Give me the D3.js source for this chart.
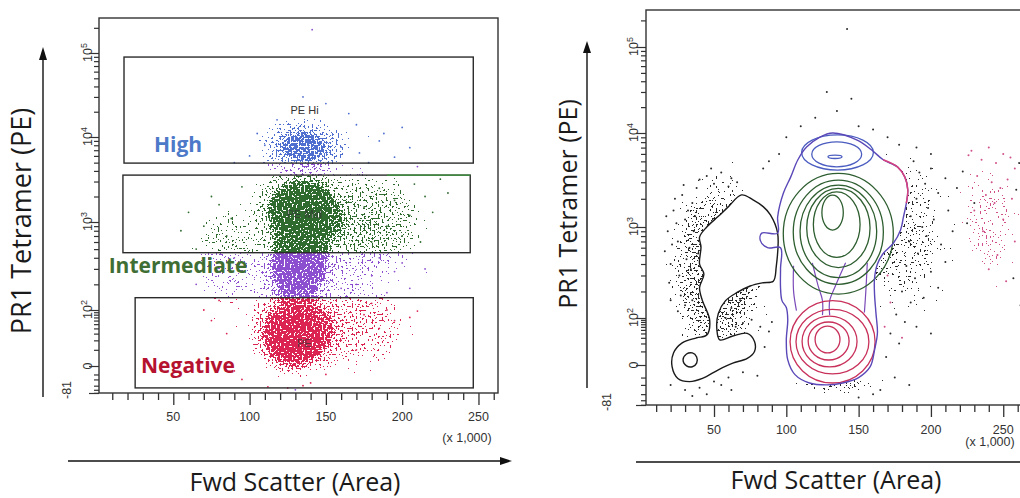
<!DOCTYPE html>
<html>
<head>
<meta charset="utf-8">
<script src="https://cdn.jsdelivr.net/npm/d3@7"></script>
<style>
  body { margin: 0; background: #fff; }
  svg { display: block; }
  .num { font-family: "Liberation Sans", Arial, sans-serif; font-size: 12.5px; fill: #333; }
  .title { font-family: "Open Sans", sans-serif; fill: #1a1a1a; }
  .tag { font-family: "Open Sans", sans-serif; font-weight: 700; font-size: 21px; }
  .gate-name { font-family: "Liberation Sans", Arial, sans-serif; font-size: 11px; fill: #333; }
</style>
</head>
<body>
<svg id="chart" width="1020" height="498"></svg>
<script>
// ---- axis ticks ----
const xMajorTicks = [50, 100, 150, 200, 250];
const xMinorTicks = [10, 20, 30, 40, 60, 70, 80, 90, 110, 120, 130, 140, 160, 170, 180, 190, 210, 220, 230, 240, 260];
const yLabelTicks = [-81, 0, 100, 1000, 10000, 100000];
const yLabelBase = ['-81', '0', '10', '10', '10', '10'];
const yLabelExp = ['', '', '2', '3', '4', '5'];
const yMinorTicks = [-80, -60, -40, -20, -10, 10, 20, 30, 40, 50, 60, 70, 80, 90,
  200, 300, 400, 500, 600, 700, 800, 900,
  2000, 3000, 4000, 5000, 6000, 7000, 8000, 9000,
  20000, 30000, 40000, 50000, 60000, 70000, 80000, 90000, 200000];
const yKnots = [-81, 0, 100, 1000, 10000, 100000, 262144];

// ---- left plot: gates (x in thousands, y = PE intensity) ----
const gateNames = ['PE Hi', 'PE Mid', 'PE'];
const gateX0 = [17.7, 17, 25];
const gateX1 = [246.6, 244.6, 246.6];
const gateYLow = [4940, 456, -50];
const gateYHigh = [89500, 3570, 140];
const tagNames = ['High', 'Intermediate', 'Negative'];

// event density regions: [x0, x1, yLow, yHigh, relative density]
const leftDensity = [
  [60, 225, -55, 22000, 0.45],
  [100, 170, 3300, 20000, 0.8],
  [102, 168, 300, 5200, 1],
  [110, 158, 520, 3400, 1],
  [140, 225, 250, 4500, 0.45],
  [104, 160, 100, 900, 1],
  [95, 165, -35, 220, 1],
  [106, 150, -10, 120, 1],
  [130, 215, -20, 200, 0.4],
  [55, 105, 40, 2500, 0.3]
];
// sparse events outside the dense cloud
const leftEvents = [
  [141, 190000], [150, 25000], [170, 14000], [118, 16000], [135, 30000], [200, 13000], [185, 9000],
  [172, 6500], [160, 7600], [178, 5000], [195, 5800], [210, 4500], [110, 8000], [100, 6000], [90, 5000],
  [205, 7500], [188, 11000], [165, 19000], [105, 11000],
  [185, 2500], [195, 1800], [205, 1200], [190, 900], [215, 2000], [200, 700], [180, 600], [225, 3200],
  [175, 1500], [212, 600], [185, 400], [200, 350], [220, 1300], [230, 2200], [208, 2800],
  [75, 2000], [70, 900], [60, 1300], [85, 700], [80, 1600], [65, 500], [90, 400], [55, 800], [95, 2600], [88, 1100],
  [180, 250], [170, 200], [195, 280], [160, 180], [205, 180], [215, 300], [190, 160],
  [175, 80], [195, 60], [205, 70], [185, 40], [160, 20], [170, 10], [150, -10], [140, -30], [210, 95], [190, 100], [180, 120],
  [75, 60], [85, 30], [80, 130], [70, 100], [90, -5], [95, -20], [65, 200], [78, 300],
  [125, -50], [130, -60], [135, -40], [112, -45]
];

// ---- right plot ----
const rightBackground = [[10, 95, -35, 7000, 0.7], [120, 230, 20, 15000, 0.45], [95, 175, -45, -5, 0.5]];
const rightBackgroundFar = [[212, 268, 150, 9000, 0.4]];
const debrisContour = [
  [69, 2200], [77, 1950], [84, 1650], [89, 1350], [94, 860], [93, 370], [91, 260], [84, 250], [75, 230],
  [66, 195], [58, 158], [53, 113], [52, 50], [54, 26], [63, 34], [73, 40], [78, 23], [78, 10], [73, 4],
  [63, 1], [53, -3], [42, -11], [33, -15], [25, -11], [21, -1], [22, 8.5], [28, 21], [38, 30], [45, 36],
  [47, 89], [42, 158], [40, 220], [43, 310], [40, 400], [41, 610], [40, 780], [45, 1000], [53, 1300], [60, 1650]
];
const debrisCore = [[28.6, 3], [31, 7.5], [35, 8.5], [38, 5], [38, 1], [35, -1], [31, -0.5]];
const mainContour = [
  [132, 10000], [149, 8400], [159, 6600], [167, 5200], [177, 4350], [182, 3400], [184, 2480], [183, 1800],
  [181, 1280], [179, 930], [174, 670], [167, 520], [163, 400], [161, 280], [161, 188], [162, 113], [163, 41],
  [161, 11.5], [158, -1], [150, -10], [139, -17], [128, -20], [116, -17], [106, -7], [101, 3], [100, 26],
  [101, 89], [100, 132], [97, 158], [96, 220], [96, 360], [96, 600], [87, 600], [82, 720], [83, 860],
  [94, 860], [94, 1280], [98, 2300], [103, 3400], [108, 5200], [114, 7100], [123, 9000]
];
const mainEdgePink = [[167, 5200], [177, 4350], [182, 3400], [184, 2480], [183, 1800]];
// rings: [x0, x1, yLow, yHigh]
const highRings = [[110.6, 160.2, 4040, 9530], [117.6, 152.1, 4380, 8070], [128.8, 138.5, 5360, 5830]];
const midRings = [[97.9, 174, 187, 3725], [104.8, 167.1, 240, 3160], [109.5, 162.5, 284, 2800],
  [114.1, 157.9, 366, 2580], [118.7, 151, 472, 2375], [124.6, 139.4, 927, 2190]];
const negRings = [[102.6, 161.4, -17, 158], [106.7, 157.1, -6.4, 126], [110.9, 148.9, -1.1, 105],
  [115.1, 143.4, 2.9, 79.6], [119.9, 137.1, 8.5, 63]];
const bridges = [
  [[105, 382], [105, 203], [107, 122]],
  [[118, 412], [122, 231], [125, 158], [125, 108]],
  [[141, 412], [134, 231], [130, 158], [130, 108]],
  [[156, 412], [155, 203], [154, 116]]
];
const rightEvents = [
  [142, 160000], [120, 15000], [135, 18000], [150, 12000], [160, 11000], [110, 12000], [100, 9000], [170, 9000],
  [178, 7500], [145, 25000], [128, 30000], [95, 6000], [88, 5000], [84, 4200], [190, 7000], [200, 6000],
  [188, 5000], [192, 3800], [196, 2900], [200, 4200], [205, 2300], [210, 3300], [190, 2000], [198, 1600],
  [186, 1300], [194, 1000], [202, 1200], [212, 1500], [218, 2600], [222, 3900], [185, 700], [191, 520],
  [197, 800], [207, 650], [215, 900], [225, 1100], [183, 380], [189, 280], [200, 330], [210, 420], [230, 1800],
  [180, 200], [186, 150], [195, 170], [205, 220], [176, 110], [182, 80], [190, 60], [200, 40], [172, 40],
  [178, 20], [169, 5], [175, -10], [185, -20], [165, -30], [160, -40], [150, -50],
  [18, 900], [22, 1500], [25, 700], [20, 400], [28, 2200], [30, 1200], [33, 600], [26, 300], [35, 1800],
  [38, 2600], [24, 1100], [31, 450], [19, 250], [27, 180], [34, 350], [36, 900], [29, 2800], [40, 3200],
  [45, 3500], [50, 2900], [55, 3800], [60, 2700], [62, 3300], [48, 4200], [66, 3000], [21, 650], [17, 1300],
  [23, 2000], [32, 1500], [37, 1300], [39, 520], [30, 140], [25, 120], [35, 160], [20, 160], [16, 550],
  [20, -20], [30, -30], [40, -25], [50, -15], [60, -10], [70, -5], [45, -40], [35, -45], [62, -30], [55, -20],
  [80, -8], [85, 15], [88, 45], [82, 60], [90, 80], [76, 90], [70, 75], [65, 60], [58, 100], [62, 130], [68, 160],
  [261, 4800], [259, 2500], [257, 280], [262, 140]
];
const rightEventsPink = [
  [228, 6500], [235, 5200], [240, 7000], [245, 4800], [250, 6000], [255, 5500], [258, 4200], [232, 3500],
  [242, 3000], [248, 2600], [253, 3200], [238, 2200], [244, 1800], [256, 2000], [230, 1500], [250, 1200],
  [236, 900], [258, 700], [246, 500], [240, 350], [252, 260], [226, 5800], [170, 300], [172, 150], [168, 60], [180, 30]
];

// ---- styles ----
const gateColors = ['#4f6fd0', '#2f6a2f', '#dc2452'];
const outsideColor = '#8c4fcf';
const tagColors = ['#4d79c9', '#3f6e35', '#b5122f'];

const W = 1020, H = 498;
const svg = d3.select('#chart');
const defs = svg.append('defs');

const fade = defs.append('radialGradient').attr('id', 'fade');
fade.append('stop').attr('offset', '0%').attr('stop-color', '#fff').attr('stop-opacity', 1);
fade.append('stop').attr('offset', '45%').attr('stop-color', '#fff').attr('stop-opacity', 0.78);
fade.append('stop').attr('offset', '100%').attr('stop-color', '#fff').attr('stop-opacity', 0);

// speckle texture: density (alpha) + noise, thresholded into dots
function stipple(id, color, seed) {
  const f = defs.append('filter').attr('id', id)
    .attr('filterUnits', 'userSpaceOnUse').attr('x', 0).attr('y', 0).attr('width', W).attr('height', H)
    .attr('color-interpolation-filters', 'sRGB');
  f.append('feTurbulence').attr('type', 'fractalNoise').attr('baseFrequency', 0.5)
    .attr('numOctaves', 1).attr('seed', seed).attr('result', 'noise');
  f.append('feColorMatrix').attr('in', 'noise').attr('type', 'matrix')
    .attr('values', '0 0 0 0 0  0 0 0 0 0  0 0 0 0 0  1 0 0 0 0').attr('result', 'na');
  f.append('feComposite').attr('in', 'na').attr('in2', 'SourceAlpha').attr('operator', 'arithmetic')
    .attr('k1', 0).attr('k2', 1).attr('k3', 0.5).attr('k4', -0.1).attr('result', 'sum');
  f.append('feComponentTransfer').attr('in', 'sum').attr('result', 'mask')
    .append('feFuncA').attr('type', 'discrete').attr('tableValues', '0 0 0 1');
  f.append('feComponentTransfer').attr('in', 'SourceAlpha').attr('result', 'area')
    .append('feFuncA').attr('type', 'discrete').attr('tableValues', '0 1 1 1 1 1 1 1 1 1 1 1 1 1 1 1 1 1 1 1');
  f.append('feComposite').attr('in', 'mask').attr('in2', 'area').attr('operator', 'in').attr('result', 'mask2');
  f.append('feFlood').attr('flood-color', color).attr('result', 'col');
  f.append('feComposite').attr('in', 'col').attr('in2', 'mask2').attr('operator', 'in');
}
stipple('st-out', outsideColor, 4);
gateColors.forEach((c, i) => stipple('st-gate' + i, c, 4));
stipple('st-black', '#2a2a2a', 7);
stipple('st-pink', '#d0508a', 9);

const T = v => Math.sign(v) * Math.log10(1 + Math.abs(v) / 10);

function makePanel(cfg) {
  const x = d3.scaleLinear().domain([0, 262.144]).range(cfg.xRange);
  const yT = d3.scaleLinear().domain(yKnots.map(T)).range(cfg.yRange);
  return { x, yT, y: v => yT(T(v)), cfg, g: svg.append('g') };
}
const L = makePanel({ xRange: [97, 497], yRange: [393, 366, 310, 222, 137, 53, 18], frame: [99, 498, 18, 393],
  xLabelY: 421, unitPos: [467, 442], yLabelX: 92, yNegX: 71 });
const R = makePanel({ xRange: [641.7, 1020.8], yRange: [405, 365, 318, 227, 133, 47, 10], frame: [646, 1030, 10, 405],
  xLabelY: 434, unitPos: [990, 446], yLabelX: 638, yNegX: 611 });

function drawAxes(P) {
  const { g, x, yT, cfg } = P;
  const [fx0, fx1, fy0, fy1] = cfg.frame;
  g.append('rect').attr('x', fx0).attr('y', fy0).attr('width', fx1 - fx0).attr('height', fy1 - fy0)
    .attr('fill', 'none').attr('stroke', '#333').attr('stroke-width', 1.4);
  const bottom = (vals, size) => g.append('g').attr('transform', `translate(0,${fy1})`).attr('color', '#333')
    .call(d3.axisBottom(x).tickValues(vals).tickSize(size).tickFormat(''))
    .call(a => a.select('.domain').remove())
    .call(a => a.selectAll('line').attr('stroke-width', 1.3));
  bottom(xMinorTicks, 7);
  bottom(xMajorTicks, 12);
  const left = (vals, size) => g.append('g').attr('transform', `translate(${fx0},0)`).attr('color', '#333')
    .call(d3.axisLeft(yT).tickValues(vals.map(T)).tickSize(size).tickFormat(''))
    .call(a => a.select('.domain').remove())
    .call(a => a.selectAll('line').attr('stroke-width', 1.2));
  left(yMinorTicks, 5);
  left(yLabelTicks, 10);

  g.selectAll(null).data(xMajorTicks).join('text').attr('class', 'num')
    .attr('x', d => x(d)).attr('y', cfg.xLabelY).attr('text-anchor', 'middle').text(d => d);
  g.append('text').attr('class', 'num').attr('font-size', 11).attr('text-anchor', 'middle')
    .attr('x', cfg.unitPos[0]).attr('y', cfg.unitPos[1]).text('(x 1,000)');

  yLabelTicks.forEach((v, i) => {
    const py = P.y(v);
    const exp = yLabelExp[i];
    const bx = v < 0 ? cfg.yNegX : cfg.yLabelX;
    const by = exp ? py + 9 : (v < 0 ? py - 3 : py);
    const t = g.append('text').attr('class', 'num')
      .attr('transform', `translate(${bx},${by}) rotate(-90)`)
      .attr('text-anchor', exp ? 'start' : 'middle');
    t.append('tspan').text(yLabelBase[i]);
    if (exp) t.append('tspan').attr('dy', -5).attr('font-size', 9).text(exp);
  });
}

function densityLayer(P, blobs, filterId, clipId) {
  const g = P.g.append('g').attr('filter', `url(#${filterId})`);
  if (clipId) g.attr('clip-path', `url(#${clipId})`);
  g.selectAll('ellipse').data(blobs).join('ellipse')
    .attr('cx', d => (P.x(d[0]) + P.x(d[1])) / 2)
    .attr('cy', d => (P.y(d[2]) + P.y(d[3])) / 2)
    .attr('rx', d => Math.abs(P.x(d[1]) - P.x(d[0])) / 2)
    .attr('ry', d => Math.abs(P.y(d[3]) - P.y(d[2])) / 2)
    .attr('fill', 'url(#fade)')
    .attr('fill-opacity', d => d[4]);
}

function ring(sel, P, rings, color) {
  sel.selectAll(null).data(rings).join('ellipse')
    .attr('cx', d => (P.x(d[0]) + P.x(d[1])) / 2)
    .attr('cy', d => (P.y(d[2]) + P.y(d[3])) / 2)
    .attr('rx', d => Math.abs(P.x(d[1]) - P.x(d[0])) / 2)
    .attr('ry', d => Math.abs(P.y(d[3]) - P.y(d[2])) / 2)
    .attr('fill', 'none').attr('stroke', color).attr('stroke-width', 1.3);
}

// ================= left plot =================
drawAxes(L);
const gateRect = i => ({ x: L.x(gateX0[i]), y: L.y(gateYHigh[i]),
  w: L.x(gateX1[i]) - L.x(gateX0[i]), h: L.y(gateYLow[i]) - L.y(gateYHigh[i]) });
gateNames.forEach((n, i) => {
  const r = gateRect(i);
  defs.append('clipPath').attr('id', 'gate' + i).append('rect')
    .attr('x', r.x).attr('y', r.y).attr('width', r.w).attr('height', r.h);
});

densityLayer(L, leftDensity, 'st-out');
gateNames.forEach((n, i) => {
  const r = gateRect(i);
  L.g.append('rect').attr('x', r.x + 1).attr('y', r.y + 1).attr('width', r.w - 2).attr('height', r.h - 2).attr('fill', '#fff');
});
gateNames.forEach((n, i) => densityLayer(L, leftDensity, 'st-gate' + i, 'gate' + i));

const gateOf = d => gateNames.findIndex((n, i) =>
  d[0] >= gateX0[i] && d[0] <= gateX1[i] && d[1] >= gateYLow[i] && d[1] <= gateYHigh[i]);
L.g.selectAll('circle.ev').data(leftEvents).join('circle').attr('class', 'ev')
  .attr('cx', d => L.x(d[0])).attr('cy', d => L.y(d[1])).attr('r', 0.9)
  .attr('fill', d => { const k = gateOf(d); return k < 0 ? outsideColor : gateColors[k]; });

gateNames.forEach((n, i) => {
  const r = gateRect(i);
  L.g.append('rect').attr('x', r.x).attr('y', r.y).attr('width', r.w).attr('height', r.h)
    .attr('fill', 'none').attr('stroke', '#2b2b2b').attr('stroke-width', 1.4);
  L.g.append('text').attr('class', 'gate-name').attr('text-anchor', 'middle').attr('opacity', i === 0 ? 1 : 0.75)
    .attr('x', L.x(136)).attr('y', r.y + r.h / 2 + 4).text(n);
});
L.g.append('line').attr('x1', L.x(190)).attr('x2', L.x(gateX1[1])).attr('y1', L.y(gateYHigh[1])).attr('y2', L.y(gateYHigh[1]))
  .attr('stroke', '#3c9a3c').attr('stroke-width', 1.4);

const tagPos = [[178, 152], [178, 273], [188, 373]];
tagNames.forEach((t, i) => {
  L.g.append('text').attr('class', 'tag').attr('x', tagPos[i][0]).attr('y', tagPos[i][1])
    .attr('text-anchor', 'middle').attr('fill', tagColors[i]).text(t);
});

// ================= right plot =================
drawAxes(R);
densityLayer(R, rightBackground, 'st-black');
densityLayer(R, rightBackgroundFar, 'st-pink');

const closed = d3.line().x(d => R.x(d[0])).y(d => R.y(d[1])).curve(d3.curveCatmullRomClosed.alpha(0.5));
const open = d3.line().x(d => R.x(d[0])).y(d => R.y(d[1])).curve(d3.curveCatmullRom.alpha(0.5));

R.g.append('path').attr('d', closed(debrisContour)).attr('fill', '#fff');
R.g.append('path').attr('d', closed(mainContour)).attr('fill', '#fff');

R.g.append('path').attr('d', closed(debrisContour)).attr('fill', 'none').attr('stroke', '#1a1a1a').attr('stroke-width', 1.4);
R.g.append('path').attr('d', closed(debrisCore)).attr('fill', 'none').attr('stroke', '#1a1a1a').attr('stroke-width', 1.4);
R.g.selectAll('path.bridge').data(bridges).join('path').attr('class', 'bridge')
  .attr('d', d => open(d)).attr('fill', 'none').attr('stroke', '#7a4ab8').attr('stroke-width', 1.2);
ring(R.g, R, highRings, '#4a5cc0');
ring(R.g, R, midRings, '#2e5e30');
ring(R.g, R, negRings, '#c8305a');
R.g.append('path').attr('d', closed(mainContour)).attr('fill', 'none').attr('stroke', '#5b48b8').attr('stroke-width', 1.4);
R.g.append('path').attr('d', open(mainEdgePink)).attr('fill', 'none').attr('stroke', '#d6407e').attr('stroke-width', 1.5);

R.g.selectAll('circle.ev').data(rightEvents).join('circle').attr('class', 'ev')
  .attr('cx', d => R.x(d[0])).attr('cy', d => R.y(d[1])).attr('r', 1).attr('fill', '#2a2a2a');
R.g.selectAll('circle.evp').data(rightEventsPink).join('circle').attr('class', 'evp')
  .attr('cx', d => R.x(d[0])).attr('cy', d => R.y(d[1])).attr('r', 1).attr('fill', '#d0508a');

// ================= axis arrows & titles =================
const arrow = svg.append('g').attr('stroke', '#111').attr('stroke-width', 1.4).attr('fill', '#111');
arrow.append('line').attr('x1', 43).attr('y1', 397).attr('x2', 43).attr('y2', 58);
arrow.append('path').attr('d', 'M43,47L39,60L47,60Z').attr('stroke', 'none');
arrow.append('line').attr('x1', 68).attr('y1', 461).attr('x2', 502).attr('y2', 461);
arrow.append('path').attr('d', 'M512,461L500,457L500,465Z').attr('stroke', 'none');
arrow.append('line').attr('x1', 587).attr('y1', 388).attr('x2', 587).attr('y2', 52);
arrow.append('path').attr('d', 'M587,41L583,53L591,53Z').attr('stroke', 'none');
arrow.append('line').attr('x1', 636).attr('y1', 462).attr('x2', 1020).attr('y2', 462);

svg.append('text').attr('class', 'title').attr('font-size', 27).attr('text-anchor', 'middle')
  .attr('transform', 'translate(31,221) rotate(-90)').text('PR1 Tetramer (PE)');
svg.append('text').attr('class', 'title').attr('font-size', 25).attr('text-anchor', 'middle')
  .attr('transform', 'translate(577,204) rotate(-90)').text('PR1 Tetramer (PE)');
svg.append('text').attr('class', 'title').attr('font-size', 25).attr('text-anchor', 'middle')
  .attr('x', 295).attr('y', 491).text('Fwd Scatter (Area)');
svg.append('text').attr('class', 'title').attr('font-size', 25).attr('text-anchor', 'middle')
  .attr('x', 836).attr('y', 489).text('Fwd Scatter (Area)');
</script>
</body>
</html>
